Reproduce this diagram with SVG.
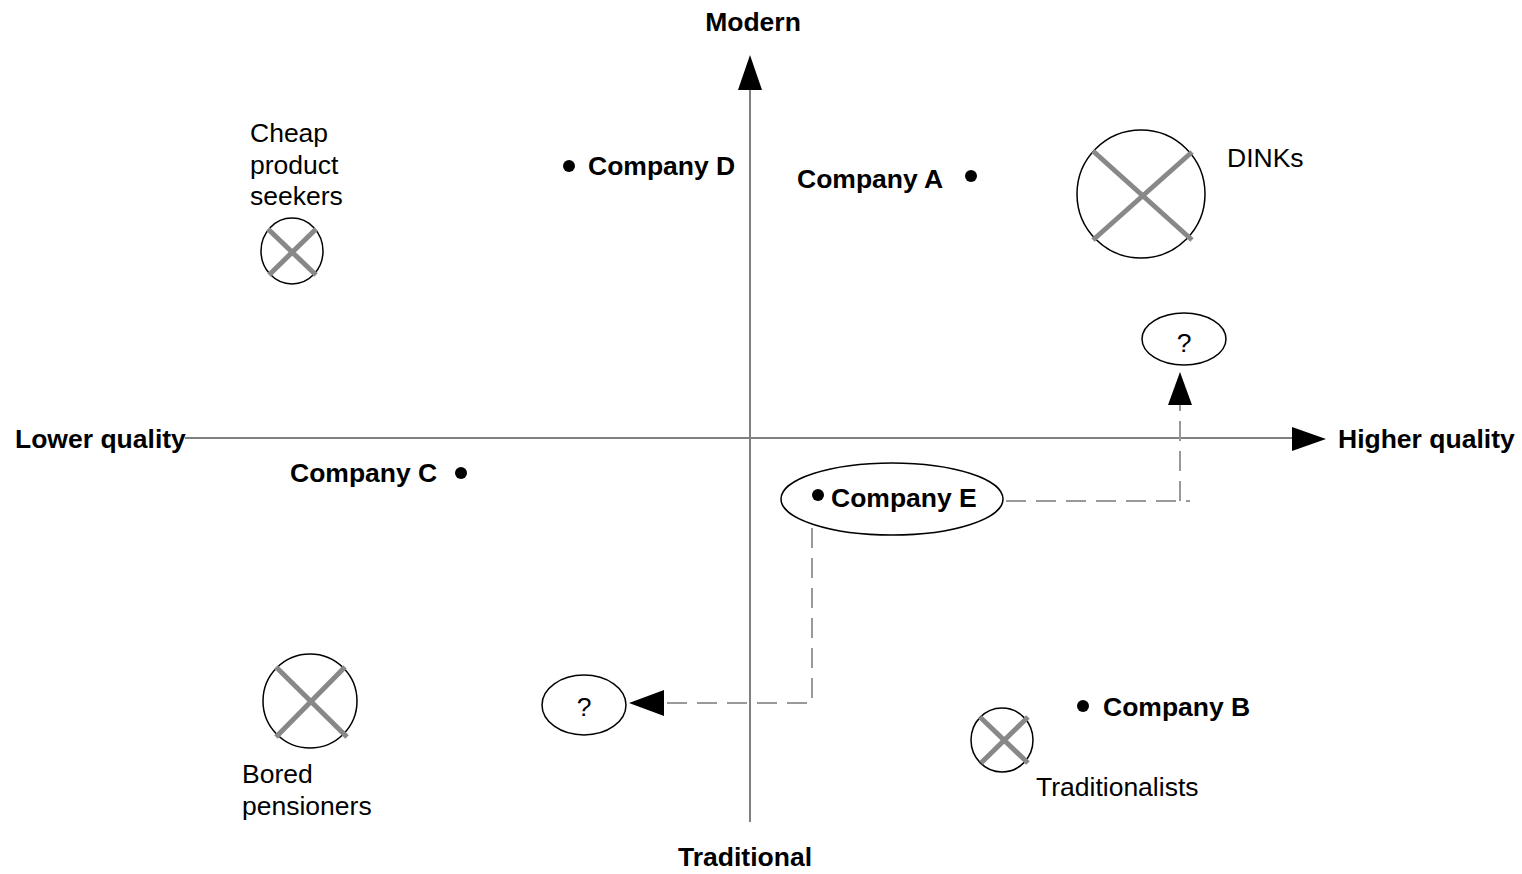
<svg xmlns="http://www.w3.org/2000/svg" width="1522" height="874" viewBox="0 0 1522 874">
<style>
.axis{stroke:#808080;stroke-width:2;fill:none}
.dash{stroke:#999999;stroke-width:2;fill:none;stroke-dasharray:20 10}
.ring{fill:#fff;stroke:#000;stroke-width:1.5}
.cross{stroke:#888888;stroke-width:5;stroke-linecap:butt}
.b{font-family:"Liberation Sans",Arial,sans-serif;font-weight:bold;font-size:26.5px;fill:#000}
.r{font-family:"Liberation Sans",Arial,sans-serif;font-size:26.5px;fill:#000}
.arrow{fill:#000}
</style>
<rect width="1522" height="874" fill="#fff"/>
<g id="axes">
<line class="axis" x1="750" y1="88" x2="750" y2="822"/>
<polygon class="arrow" points="750,55 738,90 762,90"/>
<line class="axis" x1="185" y1="438" x2="1294" y2="438"/>
<polygon class="arrow" points="1326,439 1292,427 1292,451"/>
</g>
<g id="axis-labels">
<text class="b" x="753" y="31" text-anchor="middle">Modern</text>
<text class="b" x="745" y="866" text-anchor="middle">Traditional</text>
<text class="b" x="15" y="448">Lower quality</text>
<text class="b" x="1338" y="448">Higher quality</text>
</g>
<g id="connectors">
<polyline class="dash" points="1006,501 1190,501"/>
<polyline class="dash" points="1180,501 1180,405"/>
<polygon class="arrow" points="1180,372 1168,405 1192,405"/>
<polyline class="dash" points="812,528 812,703 664,703"/>
<polygon class="arrow" points="629,703 664,690 664,716"/>
</g>
<g id="company-d">
<circle cx="569" cy="166" r="6"/>
<text class="b" x="588" y="175">Company D</text>
</g>
<g id="company-a">
<text class="b" x="797" y="188">Company A</text>
<circle cx="971" cy="176" r="6"/>
</g>
<g id="company-c">
<text class="b" x="290" y="482">Company C</text>
<circle cx="461" cy="473" r="6"/>
</g>
<g id="company-b">
<circle cx="1083" cy="706" r="6"/>
<text class="b" x="1103" y="716">Company B</text>
</g>
<g id="company-e">
<ellipse class="ring" cx="892" cy="499" rx="111" ry="36"/>
<circle cx="818" cy="495" r="6"/>
<text class="b" x="831" y="507">Company E</text>
</g>
<g id="question-upper">
<ellipse class="ring" cx="1184" cy="339" rx="42" ry="26"/>
<text class="r" x="1184" y="352" text-anchor="middle">?</text>
</g>
<g id="question-lower">
<ellipse class="ring" cx="584" cy="705" rx="42" ry="30"/>
<text class="r" x="584" y="716" text-anchor="middle">?</text>
</g>
<g id="dinks">
<circle class="ring" cx="1141" cy="194" r="64"/>
<line class="cross" x1="1093" y1="151" x2="1192" y2="240"/>
<line class="cross" x1="1192" y1="152" x2="1093" y2="240"/>
<text class="r" x="1227" y="167">DINKs</text>
</g>
<g id="cheap-product-seekers">
<text class="r" x="250" y="142">Cheap</text>
<text class="r" x="250" y="174">product</text>
<text class="r" x="250" y="205">seekers</text>
<ellipse class="ring" cx="292" cy="251" rx="31" ry="33"/>
<line class="cross" x1="268" y1="229" x2="316" y2="275"/>
<line class="cross" x1="316" y1="229" x2="269" y2="275"/>
</g>
<g id="bored-pensioners">
<circle class="ring" cx="310" cy="701" r="47"/>
<line class="cross" x1="276" y1="667" x2="347" y2="737"/>
<line class="cross" x1="345" y1="667" x2="276" y2="737"/>
<text class="r" x="242" y="783">Bored</text>
<text class="r" x="242" y="815">pensioners</text>
</g>
<g id="traditionalists">
<ellipse class="ring" cx="1002" cy="740" rx="31" ry="32"/>
<line class="cross" x1="980" y1="717" x2="1028" y2="763"/>
<line class="cross" x1="1028" y1="717" x2="981" y2="763"/>
<text class="r" x="1036" y="796">Traditionalists</text>
</g>
</svg>
